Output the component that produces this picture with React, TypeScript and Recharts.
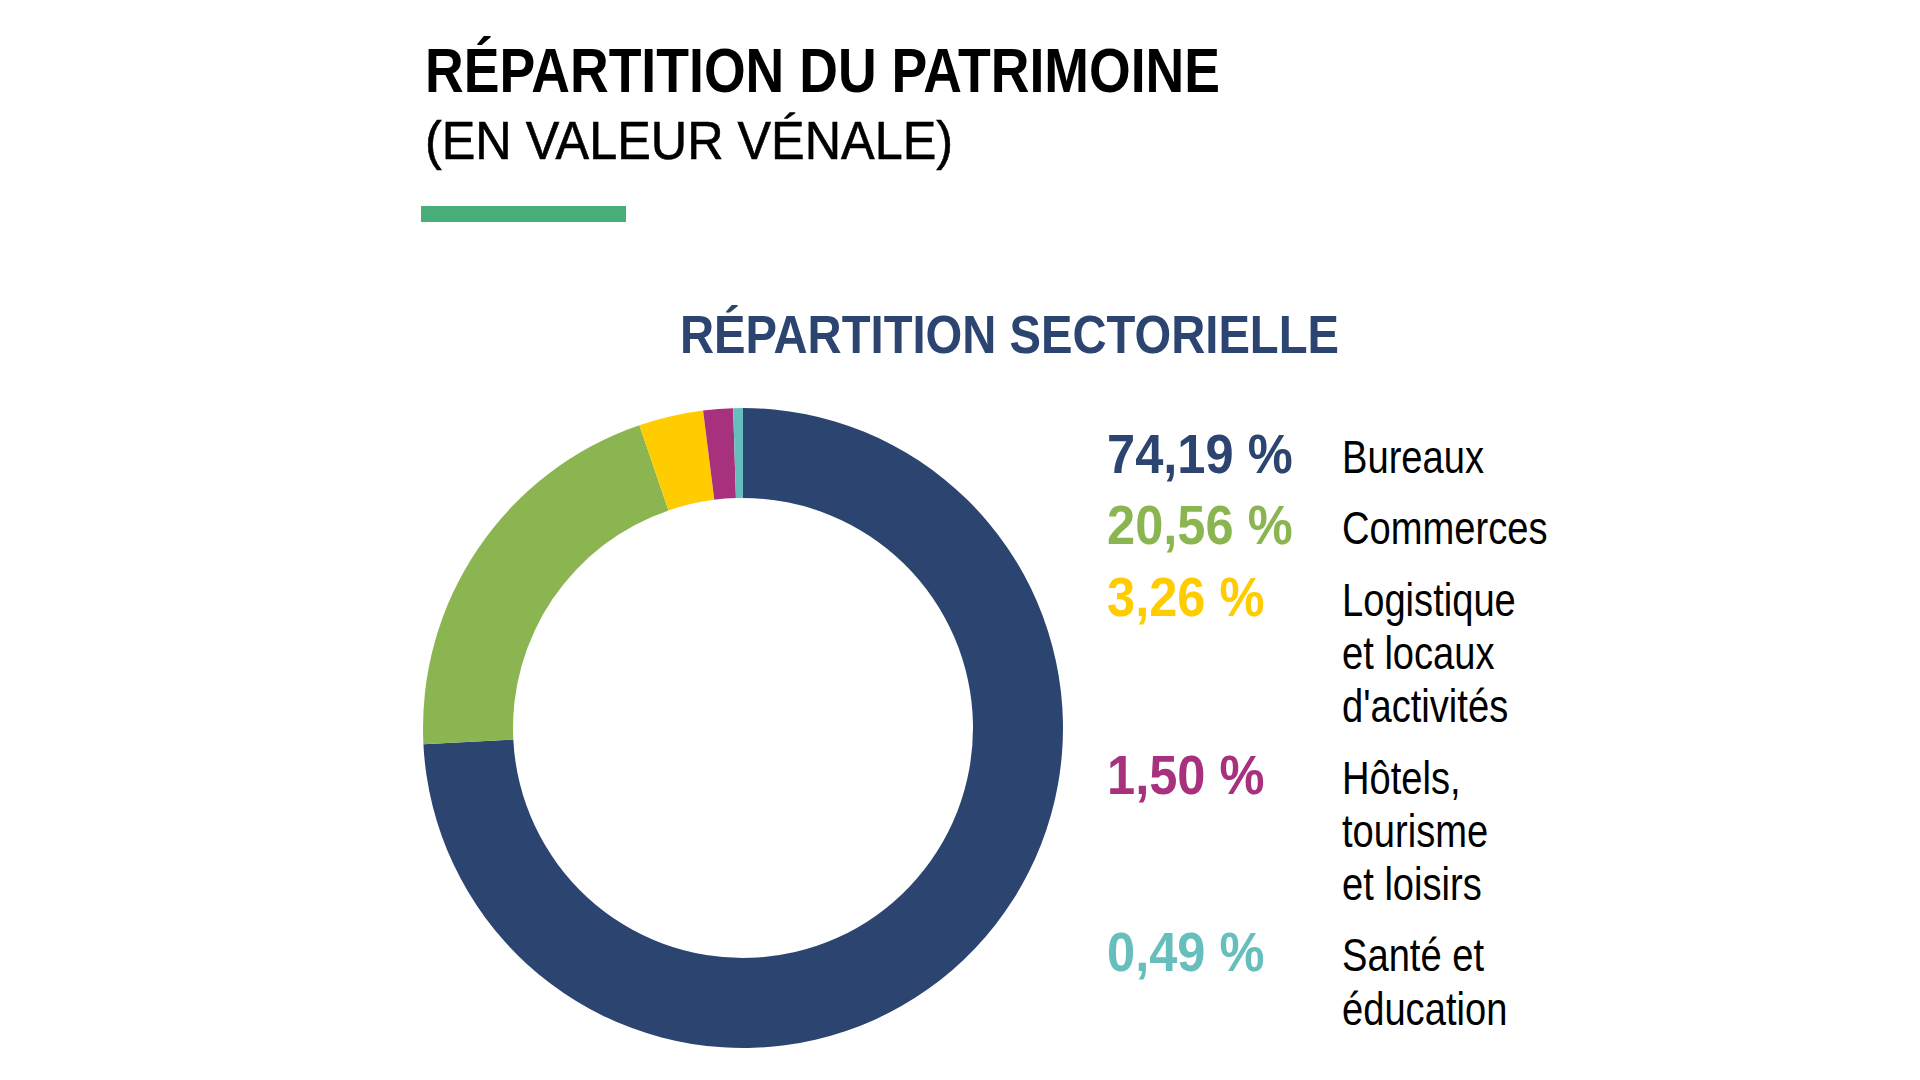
import { PieChart, Pie, Cell } from "recharts";

const sectors = ["Bureaux", "Commerces", "Logistique", "Hôtels", "Santé"];
const shares = [74.19, 20.56, 3.26, 1.5, 0.49];
const sectorColors = ["#2C4470", "#8BB551", "#FFCC00", "#A8317E", "#67BFBD"];
const sectorLabels = [
  ["Bureaux"],
  ["Commerces"],
  ["Logistique", "et locaux", "d'activités"],
  ["Hôtels,", "tourisme", "et loisirs"],
  ["Santé et", "éducation"],
];

const FONT = "'Liberation Sans', Arial, sans-serif";
const LINE_H = 53.3;
const ROW_GAP = 18;

const formatShare = (v: number) => `${v.toFixed(2).replace(".", ",")} %`;

export default function App() {
  const data = sectors.map((name, i) => ({ name, value: shares[i] }));

  // stack legend rows: each row is as tall as its label lines plus a gap
  let y = 473;
  const rows = sectorLabels.map((lines, i) => {
    const row = { y, lines, value: shares[i], color: sectorColors[i] };
    y += lines.length * LINE_H + ROW_GAP;
    return row;
  });

  return (
    <div style={{ position: "absolute", left: 0, top: 0, width: 1920, height: 1080, background: "#fff" }}>
      <div style={{ position: "absolute", left: 0, top: 0 }}>
        <PieChart width={1920} height={1080} margin={{ top: 0, right: 0, bottom: 0, left: 0 }}>
          <Pie
            data={data}
            dataKey="value"
            nameKey="name"
            cx={743}
            cy={728}
            innerRadius={230}
            outerRadius={320}
            startAngle={90}
            endAngle={-270}
            stroke="none"
            isAnimationActive={false}
          >
            {data.map((entry, i) => (
              <Cell key={`cell-${entry.name}`} fill={sectorColors[i]} />
            ))}
          </Pie>
        </PieChart>
      </div>
      <svg
        width={1920}
        height={1080}
        style={{ position: "absolute", left: 0, top: 0, pointerEvents: "none" }}
      >
        <text x={425} y={92} fontFamily={FONT} fontWeight={700} fontSize={63} fill="#000"
          textLength={795} lengthAdjust="spacingAndGlyphs">
          RÉPARTITION DU PATRIMOINE
        </text>
        <text x={425} y={159} fontFamily={FONT} fontWeight={400} fontSize={54} fill="#000"
          stroke="#000" strokeWidth={0.6}
          textLength={528} lengthAdjust="spacingAndGlyphs">
          (EN VALEUR VÉNALE)
        </text>
        <rect x={421} y={206} width={205} height={16} fill="#47AD79" />
        <text x={680} y={353} fontFamily={FONT} fontWeight={700} fontSize={53} fill="#2C4470"
          textLength={659} lengthAdjust="spacingAndGlyphs">
          RÉPARTITION SECTORIELLE
        </text>

        {rows.map((row) => (
          <g key={row.lines[0]}>
            <text
              transform={`translate(1107, ${row.y}) scale(0.92, 1)`}
              fontFamily={FONT}
              fontWeight={700}
              fontSize={55}
              fill={row.color}
            >
              {formatShare(row.value)}
            </text>
            {row.lines.map((line, j) => (
              <text
                key={line}
                transform={`translate(1342, ${row.y + j * LINE_H}) scale(0.82, 1)`}
                fontFamily={FONT}
                fontSize={46.5}
                fill="#000"
              >
                {line}
              </text>
            ))}
          </g>
        ))}
      </svg>
    </div>
  );
}
